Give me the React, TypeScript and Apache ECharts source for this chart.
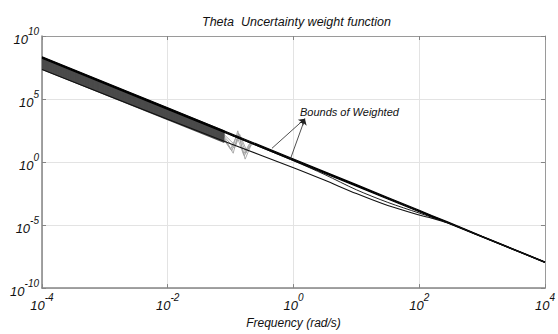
import React, { useEffect, useRef } from "react";
import * as echarts from "echarts";

// Frequencies (rad/s) at which the bound curves were read
const FREQ = [1e-4, 1e-2, 1e-1, 1, 3.16, 10, 31.6, 100, 158, 282, 1000, 1e4];
// Upper bound (three nearly coincident curves)
const UPPER_A = [2.0e8, 1.74e4, 1.62e2, 1.51, 0.145, 1.41e-2, 1.35e-3, 1.32e-4, 5.1e-5, 1.62e-5, 1.23e-6, 1.15e-8];
const UPPER_B = [2.3e8, 2.0e4, 1.86e2, 1.74, 0.166, 1.62e-2, 1.55e-3, 1.5e-4, 5.8e-5, 1.8e-5, 1.32e-6, 1.2e-8];
const UPPER_C = [1.74e8, 1.51e4, 1.41e2, 1.32, 0.126, 1.23e-2, 1.17e-3, 1.15e-4, 4.5e-5, 1.48e-5, 1.15e-6, 1.1e-8];
// Lower bound
const LOWER = [2.24e7, 2.5e3, 28, 0.355, 3.55e-2, 3.16e-3, 3.55e-4, 6.3e-5, 3.55e-5, 1.51e-5, 1.17e-6, 1.1e-8];
// Intermediate curve
const MID_FREQ = [0.1, 1, 3.16, 10, 31.6, 100, 158, 282, 1000, 1e4];
const MID = [141, 1.26, 0.1, 6.3e-3, 6.3e-4, 8.9e-5, 4.2e-5, 1.58e-5, 1.2e-6, 1.12e-8];
// Sampled weight functions (dark band)
const BAND_FREQ = [1e-4, 0.08];
const BAND_AT_LOW = [2.4e7, 2.9e7, 3.5e7, 4.2e7, 5.0e7, 6.0e7, 7.2e7, 8.6e7, 1.03e8, 1.23e8, 1.47e8, 1.75e8];
const BAND_AT_END = [38, 46, 55, 66, 79, 95, 114, 136, 163, 195, 233, 278];
// Grey zig-zag ends of sampled curves
const ZIG_1 = [[0.08, 63], [0.11, 5.0], [0.132, 200], [0.17, 1.7], [0.22, 35]];
const ZIG_2 = [[0.08, 79], [0.105, 8], [0.13, 300], [0.165, 3], [0.21, 40]];
const ZIG_3 = [[0.08, 100], [0.115, 12], [0.135, 180], [0.175, 5], [0.22, 38]];
const ZIG_4 = [[0.08, 50], [0.1, 10], [0.125, 130], [0.16, 4], [0.2, 30]];
const ZIG_5 = [[0.08, 140], [0.12, 20], [0.14, 150], [0.18, 8], [0.23, 36]];
// Annotation arrows: tail points and common head
const ARROW_TAILS = [[0.455, 12.4], [0.88, 1.43]];
const ARROW_HEAD = [1.52, 2750];

const FONT = "Liberation Sans, Arial, sans-serif";

function supLabel(v: number) {
  const e = Math.round(Math.log10(v));
  return `{b|10}{s|${e}}`;
}

const richStyle = {
  b: { fontSize: 13, lineHeight: 20, verticalAlign: "bottom", fontStyle: "italic", fontFamily: FONT, color: "#111" },
  s: { fontSize: 10, lineHeight: 10, verticalAlign: "top", fontStyle: "italic", fontFamily: FONT, color: "#111" },
};

export default function App() {
  const ref = useRef<HTMLDivElement>(null);
  useEffect(() => {
    if (!ref.current) return;
    const chart = echarts.init(ref.current, null, { renderer: "svg" });
    const pair = (xs: number[], ys: number[]) => xs.map((x, i) => [x, ys[i]]);
    const line = (data: any, color: string, width: number, extra: any = {}) => ({
      type: "line",
      data,
      showSymbol: false,
      symbol: "none",
      silent: true,
      lineStyle: { color, width },
      ...extra,
    });
    const series: any[] = [];
    BAND_AT_LOW.forEach((v, i) => {
      series.push(line(pair(BAND_FREQ, [v, BAND_AT_END[i]]), "#4a4a4a", 1.7));
    });
    [ZIG_1, ZIG_2, ZIG_3, ZIG_4, ZIG_5].forEach((z) => series.push(line(z, "#a0a0a0", 0.9)));
    series.push(line(pair(MID_FREQ, MID), "#222", 1, { smooth: 0.3 }));
    series.push(line(pair(FREQ, UPPER_A), "#000", 1.2));
    series.push(line(pair(FREQ, UPPER_B), "#000", 1.1));
    series.push(line(pair(FREQ, UPPER_C), "#000", 1.1));
    series.push(
      line(pair(FREQ, LOWER), "#111", 1.1, {
        smooth: 0.3,
        markLine: {
          silent: true,
          animation: false,
          symbol: ["none", "arrow"],
          symbolSize: 6,
          label: { show: false },
          lineStyle: { color: "#222", width: 0.8, type: "solid" },
          data: ARROW_TAILS.map((t) => [{ coord: t }, { coord: ARROW_HEAD }]),
        },
      })
    );

    const axisCommon = {
      type: "log",
      logBase: 10,
      axisLine: { show: true, lineStyle: { color: "#858585", width: 1.5 } },
      axisTick: { show: true, inside: true, length: 4, lineStyle: { color: "#858585" } },
      minorTick: { show: false },
    };

    chart.setOption({
      animation: false,
      backgroundColor: "#fff",
      title: {
        text: "Theta  Uncertainty weight function",
        left: 197,
        top: 10,
        textStyle: { fontSize: 12.5, fontStyle: "italic", fontWeight: "normal", fontFamily: FONT, color: "#111" },
      },
      grid: { left: 42, right: 13, top: 36, bottom: 42, show: false },
      xAxis: [
        {
          ...axisCommon,
          min: 1e-4,
          max: 1e4,
          interval: 2,
          position: "bottom",
          name: "Frequency (rad/s)",
          nameLocation: "middle",
          nameGap: 24,
          nameTextStyle: { fontSize: 12, fontStyle: "italic", fontFamily: FONT, color: "#111" },
          axisLabel: { margin: 4, formatter: supLabel, rich: richStyle },
          splitLine: { show: true, lineStyle: { color: "#e3e3e3", width: 1 } },
        },
        {
          ...axisCommon,
          min: 1e-4,
          max: 1e4,
          interval: 2,
          position: "top",
          axisLine: { show: true, lineStyle: { color: "#9a9a9a", width: 1 } },
          axisLabel: { show: false },
          splitLine: { show: false },
        },
      ],
      yAxis: [
        {
          ...axisCommon,
          min: 1e-10,
          max: 1e10,
          interval: 5,
          position: "left",
          axisLabel: { margin: 3, formatter: supLabel, rich: richStyle },
          splitLine: { show: true, lineStyle: { color: "#e3e3e3", width: 1 } },
        },
        {
          ...axisCommon,
          min: 1e-10,
          max: 1e10,
          interval: 5,
          position: "right",
          axisLine: { show: true, lineStyle: { color: "#9a9a9a", width: 1 } },
          axisLabel: { show: false },
          splitLine: { show: false },
        },
      ],
      graphic: [
        {
          type: "text",
          left: 300,
          top: 106,
          style: { text: "Bounds of Weighted", fontSize: 11, fontStyle: "italic", fontFamily: FONT, fill: "#111" },
        },
      ],
      series,
    });
    return () => chart.dispose();
  }, []);
  return <div ref={ref} style={{ position: "fixed", left: 0, top: 0, width: 558, height: 334 }} />;
}
